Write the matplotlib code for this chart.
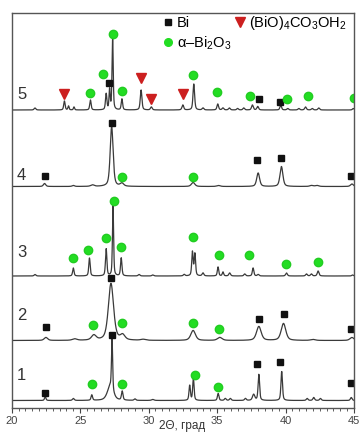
import numpy as np
import matplotlib
matplotlib.use("Agg")
from matplotlib import pyplot as plt
from matplotlib.lines import Line2D

plt.rcParams['font.family'] = ['Liberation Sans', 'DejaVu Sans']
plt.rcParams['mathtext.fontset'] = 'custom'
plt.rcParams['mathtext.rm'] = 'Liberation Sans'
plt.rcParams['mathtext.it'] = 'Liberation Sans:italic'

# baseline offset of every pattern (a.u.), pattern 1 at the bottom
offsets = [7.5, 67.5, 132, 221.5, 298]
sample_names = ['1', '2', '3', '4', '5']

# peaks: (2theta, height above baseline, fwhm)
peaks1 = [(22.45, 4, 0.12), (24.5, 2, 0.15), (25.85, 5.5, 0.13), (27.2, 14, 0.5),
          (27.33, 50, 0.1), (28.07, 9, 0.13), (29.0, 1.5, 0.15), (30.3, 1, 0.2),
          (33.0, 15, 0.12), (33.27, 22, 0.12), (35.08, 7, 0.13), (35.6, 2, 0.15),
          (35.97, 2, 0.15), (37.07, 2, 0.15), (37.67, 6, 0.2), (38.05, 26, 0.13),
          (39.72, 29, 0.13), (41.58, 2, 0.15), (42.06, 3, 0.15), (42.55, 2, 0.15),
          (44.8, 3, 0.15)]
peaks2 = [(22.5, 3, 0.3), (24.6, 1.5, 0.4), (26.0, 5, 0.4), (27.25, 57, 0.45),
          (28.1, 5, 0.4), (29.6, 1, 0.4), (33.25, 10, 0.4), (35.2, 3, 0.4),
          (38.05, 14, 0.4), (39.85, 17, 0.4), (42.0, 1, 0.4), (44.85, 3, 0.35)]
peaks3 = [(21.7, 1.5, 0.15), (24.5, 8, 0.12), (25.68, 18, 0.12), (26.9, 27, 0.12),
          (27.4, 71, 0.1), (28.0, 18, 0.12), (29.3, 1.5, 0.15), (30.3, 1, 0.15),
          (32.6, 1.5, 0.15), (33.2, 24, 0.12), (33.38, 22, 0.12), (33.97, 3, 0.15),
          (35.07, 9, 0.12), (35.43, 4, 0.12), (35.92, 3, 0.15), (37.02, 2, 0.15),
          (37.63, 8, 0.13), (38.0, 1.5, 0.15), (40.07, 3, 0.15), (41.53, 2, 0.15),
          (41.89, 2, 0.15), (42.38, 5, 0.15), (44.9, 1, 0.15)]
peaks4 = [(22.4, 3, 0.2), (24.5, 1, 0.2), (25.9, 1.5, 0.3), (27.3, 60, 0.25),
          (28.05, 3, 0.3), (33.25, 4, 0.3), (35.1, 1, 0.3), (38.0, 13.5, 0.25),
          (39.7, 20, 0.25), (41.9, 1, 0.3), (42.3, 1, 0.3), (44.85, 2.5, 0.25)]
peaks5 = [(21.7, 2, 0.15), (23.85, 9, 0.12), (24.15, 4, 0.1), (24.55, 3, 0.1),
          (25.75, 10, 0.12), (26.9, 16, 0.12), (27.15, 20, 0.1), (27.37, 73, 0.1),
          (28.05, 11, 0.12), (29.45, 20, 0.14), (30.2, 3, 0.15), (32.5, 5, 0.15),
          (33.3, 26, 0.14), (33.97, 2, 0.15), (35.05, 6, 0.14), (35.43, 2, 0.15),
          (35.9, 2, 0.15), (36.5, 1.5, 0.15), (36.95, 2, 0.15), (37.58, 5, 0.15),
          (37.97, 3.5, 0.15), (39.65, 5, 0.14), (40.16, 1.5, 0.15), (40.97, 1.5, 0.15),
          (41.46, 3, 0.15), (41.95, 1.5, 0.15), (42.43, 2, 0.15), (44.95, 1.5, 0.15)]
all_peaks = [peaks1, peaks2, peaks3, peaks4, peaks5]

# phase markers (2theta, position on the chart)
bi_x = [27.14, 38.04, 39.63, 22.44, 27.31, 37.92, 39.7, 44.75,
        22.51, 27.26, 38.09, 39.87, 44.75, 22.44, 27.32, 37.92, 39.63, 44.75]
bi_y = [325, 309, 306, 232, 285, 248, 250, 232,
        81.3, 129.7, 89, 94, 79, 15.3, 73, 43.7, 45.7, 25]
bo_x = [25.73, 26.66, 27.39, 28.05, 33.24, 35.0, 37.38, 40.12, 41.65, 45.0,
        28.05, 33.21,
        24.49, 25.6, 26.88, 27.5, 28.0, 33.21, 35.11, 37.36, 40.07, 42.38,
        25.97, 28.09, 33.21, 35.16,
        25.85, 28.09, 33.41, 35.07]
bo_y = [315, 334, 374, 317.3, 333, 316.3, 312, 309, 312, 310.3,
        231.3, 231.3,
        150.3, 158, 170.3, 207.3, 161, 171.3, 153, 153, 144, 146,
        83, 85.3, 85, 79,
        24, 24, 33, 20.7]
bc_x = [23.83, 29.42, 30.17, 32.51]
bc_y = [314, 330, 309, 313.7]
label_y = [32, 93, 155.3, 233, 313.7]


def pattern(tt, peaks):
    y = np.zeros_like(tt)
    for pos, h, w in peaks:
        d = (tt - pos) / (w / 2)
        y += h * (0.5 / (1 + d ** 2) + 0.5 * np.exp(-np.log(2) * d ** 2))
    return y


fig = plt.figure(figsize=(3.6, 4.33), dpi=100)
ax = fig.add_axes([11.7 / 360, 1 - 408 / 433, (354 - 11.7) / 360, (408 - 13) / 433])

tt = np.linspace(20, 45, 3000)
for off, peaks, name, ly in zip(offsets, all_peaks, sample_names, label_y):
    ax.plot(tt, off + pattern(tt, peaks), color='#3a3a3a', lw=0.9)
    ax.text(20.73, ly, name, fontsize=12, color='#333333', ha='center', va='center')

ax.plot(bi_x, bi_y, 's', color='#111111', ms=5, ls='none')
ax.plot(bo_x, bo_y, 'o', color='#22dd22', mec='#22cc22', ms=6, ls='none')
ax.plot(bc_x, bc_y, 'v', color='#cc1f1f', ms=6.5, ls='none')

handles = [Line2D([], [], marker='s', color='#111111', ms=4.5, ls='none'),
           Line2D([], [], marker='o', color='#22dd22', ms=5.5, ls='none'),
           Line2D([], [], marker='v', color='#cc1f1f', ms=6.5, ls='none')]
labels = ['Bi', 'α–Bi$_2$O$_3$', '(BiO)$_4$CO$_3$OH$_2$']
ax.legend(handles, labels, ncol=2, loc='upper right', bbox_to_anchor=(1 - 6 / 342, 1),
          frameon=False, fontsize=10.5, handlelength=0.7, handletextpad=0.25,
          columnspacing=0.25, labelspacing=0.25, borderaxespad=0.0, borderpad=0.1)

ax.set_xlim(20, 45)
ax.set_ylim(0, 395)
ax.set_yticks([])
ax.set_xticks(np.arange(20, 46, 5))
ax.set_xticks(np.arange(20, 45.01, 0.5), minor=True)
ax.tick_params(axis='x', which='major', direction='out', length=3.5, width=0.8,
               labelsize=8, labelcolor='#444444', color='#444444', pad=2)
ax.tick_params(axis='x', which='minor', direction='out', length=2.5, width=0.6,
               color='#444444')
for s in ax.spines.values():
    s.set_color('#555555')
    s.set_linewidth(1.0)

fig.text(182 / 360, 1 / 433, '2Θ, град', ha='center', va='bottom',
         fontsize=8.5, color='#333333')

fig.savefig('out.png', dpi=100)
